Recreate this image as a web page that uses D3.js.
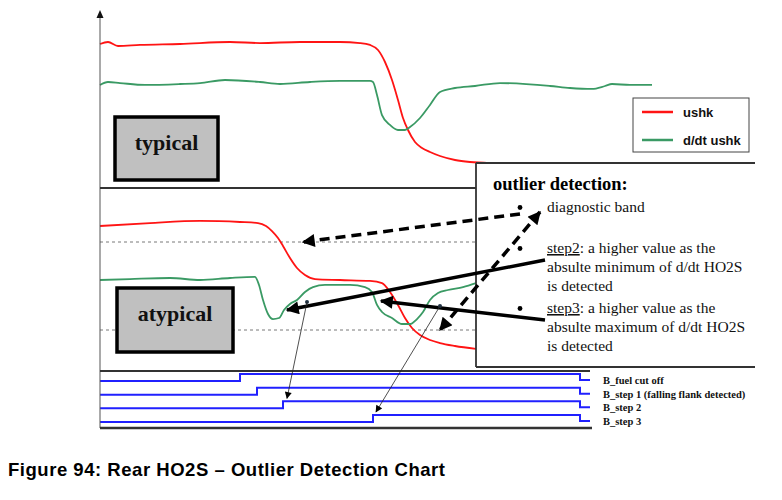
<!DOCTYPE html>
<html>
<head>
<meta charset="utf-8">
<script src="https://cdn.jsdelivr.net/npm/d3@7"></script>
<style>
  body { margin: 0; background: #fff; }
  svg { display: block; }
</style>
</head>
<body>
<div id="wrapper"></div>
<script>
// time in arbitrary units, values in % of panel height

// top panel ("typical")
const typicalTime = [0, 2, 4.5, 10, 20, 32.5, 40, 50, 60, 65, 67.5, 69.5, 71.25, 73, 74.5, 75.75, 77, 78.75, 80.5, 82.5, 85, 88.75, 92.5, 97.5]
const typicalUshk = [90, 91.25, 88.75, 89.4, 90, 91.25, 90.6, 91.25, 91.25, 90.6, 89.4, 86.25, 78.75, 67.5, 55, 43.75, 36.25, 28.75, 25, 22.5, 20, 17.5, 16.25, 15.6]
const typicalDtTime = [0, 2, 5, 11.25, 20, 25, 31.25, 40, 45, 52.5, 60, 67.5, 68.25, 69.25, 70.5, 72.5, 74.5, 76.25, 77.5, 80, 82.5, 85, 88.75, 93.75, 100, 112.5, 117.5, 123, 126.25, 128, 132.5, 138]
const typicalDtUshk = [64.4, 66.25, 65.6, 64.4, 65, 65.6, 67.5, 66.25, 65, 66.25, 66.9, 66.9, 66.25, 58.1, 45.6, 39.4, 36.25, 36.25, 38.1, 43.75, 51.9, 60, 62.5, 63.75, 65.6, 63.75, 62.5, 61.9, 63.75, 65, 64.4, 64.4]

// middle panel ("atypical")
const atypicalTime = [0, 12.5, 25, 35, 39.5, 41.5, 43, 44.5, 45.75, 47.5, 49.25, 51.25, 53.75, 60, 67.5, 70.5, 72.5, 74.5, 76.25, 78, 80, 82.5, 85, 88.75, 94]
const atypicalUshk = [88.75, 90.6, 91.9, 91.25, 90.6, 88.75, 85.6, 81.25, 76.25, 68.75, 62.5, 58.1, 55.6, 55, 54.4, 53.1, 47.5, 39.4, 31.25, 25, 20.6, 17.5, 15.6, 13.75, 11.9]
const atypicalDtTime = [0, 7.5, 17.5, 25, 32.5, 38.75, 39.75, 40.75, 42, 43.25, 44.75, 46, 47.5, 49.25, 51.25, 53.25, 56.25, 62.5, 66.25, 68, 69.25, 70.5, 73, 75.5, 77.5, 79.25, 80.75, 82.5, 84.5, 87, 90.75, 94]
const atypicalDtUshk = [55, 55.6, 56.25, 55, 56.25, 56.9, 51.9, 42.5, 33.75, 30.6, 31.25, 36.25, 40, 42.5, 47.5, 50.6, 51.9, 51.9, 50.6, 47.5, 39.4, 35, 31.25, 27.5, 27.5, 30.6, 35, 42.5, 46.9, 48.75, 50.6, 53.1]
const bandLimits = [78.75, 23.75]

// bottom panel: binary signals
const signalNames = ["B_fuel cut off", "B_step 1 (falling flank detected)", "B_step 2", "B_step 3"]
const signalRise = [35, 39.25, 45.75, 68.25]
const signalFall = [120, 120, 120, 120]
const signalEnd = 122.5

const legendNames = ["ushk", "d/dt ushk"]
const captionText = "Figure 94: Rear HO2S \u2013 Outlier Detection Chart"

const red = "#ff1414"
const green = "#3a9a64"
const blue = "#2020ff"

const svg = d3.select("#wrapper").append("svg")
  .attr("width", 782)
  .attr("height", 500)

const defs = svg.append("defs")
const addMarker = (id, w, h) => defs.append("marker")
  .attr("id", id)
  .attr("viewBox", "0 0 10 10")
  .attr("refX", 9).attr("refY", 5)
  .attr("markerUnits", "userSpaceOnUse")
  .attr("markerWidth", w).attr("markerHeight", h)
  .attr("orient", "auto-start-reverse")
  .append("path").attr("d", "M0,0 L10,5 L0,10 z").attr("fill", "#000")
addMarker("bigHead", 17, 13)
addMarker("smallHead", 8, 7)

// scales
const xScale = d3.scaleLinear().domain([0, 140]).range([100, 660])
const yTop = d3.scaleLinear().domain([0, 100]).range([188, 28])
const yMid = d3.scaleLinear().domain([0, 100]).range([368, 208])
const yRow = d3.scalePoint().domain(signalNames).range([381, 422])
const yLevel = d3.scaleLinear().domain([0, 1]).range([0, -7])

const lineGen = (ys) => d3.line()
  .x(d => xScale(d[0]))
  .y(d => ys(d[1]))
  .curve(d3.curveMonotoneX)

// middle band lines
svg.selectAll(".band")
  .data(bandLimits)
  .join("line")
  .attr("x1", xScale(0)).attr("x2", xScale(94))
  .attr("y1", d => yMid(d)).attr("y2", d => yMid(d))
  .attr("stroke", "#555").attr("stroke-width", 0.8)
  .attr("stroke-dasharray", "3,3")

// curves
const curves = [
  [typicalTime, typicalUshk, yTop, red],
  [typicalDtTime, typicalDtUshk, yTop, green],
  [atypicalTime, atypicalUshk, yMid, red],
  [atypicalDtTime, atypicalDtUshk, yMid, green],
]
curves.forEach(([ts, vs, ys, col]) => {
  svg.append("path")
    .datum(d3.zip(ts, vs))
    .attr("d", lineGen(ys))
    .attr("fill", "none")
    .attr("stroke", col)
    .attr("stroke-width", 1.8)
})

// step signals
const stepLine = d3.line()
  .x(d => xScale(d[0]))
  .y(d => d[1])
  .curve(d3.curveStepAfter)

signalNames.forEach((name, i) => {
  const low = yRow(name) + yLevel(0)
  const high = yRow(name) + yLevel(1)
  const pts = [[0, low], [signalRise[i], high], [signalFall[i], low - 1], [signalEnd, low - 1]]
  svg.append("path")
    .attr("d", stepLine(pts))
    .attr("fill", "none")
    .attr("stroke", blue)
    .attr("stroke-width", 2)
  svg.append("text")
    .attr("x", xScale(signalEnd) + 13)
    .attr("y", low + 3)
    .attr("font-family", "Liberation Serif, serif")
    .attr("font-weight", "bold")
    .attr("font-size", 10.5)
    .attr("fill", "#111")
    .text(name)
})

// frame lines
const frame = svg.append("g").attr("stroke", "#333").attr("fill", "none")
frame.append("line").attr("x1", 100).attr("x2", 476).attr("y1", 188).attr("y2", 188).attr("stroke-width", 1.8)
frame.append("line").attr("x1", 100).attr("x2", xScale(signalEnd)).attr("y1", 371).attr("y2", 371).attr("stroke-width", 2)
frame.append("line").attr("x1", 100).attr("x2", xScale(signalEnd) + 2).attr("y1", 428).attr("y2", 428).attr("stroke-width", 2.5)

// y axis with arrow
svg.append("line")
  .attr("x1", 100).attr("x2", 100).attr("y1", 16).attr("y2", 428)
  .attr("stroke", "#555").attr("stroke-width", 1)
svg.append("path").attr("d", "M100,10 L96.5,18 L103.5,18 z").attr("fill", "#111")

// outlier detection box
svg.append("rect")
  .attr("x", 476).attr("y", 163).attr("width", 279).attr("height", 204)
  .attr("fill", "#fff")
frame.raise()
const box = svg.append("g").attr("stroke", "#333").attr("stroke-width", 1.8)
box.append("line").attr("x1", 476).attr("x2", 755).attr("y1", 163).attr("y2", 163)
box.append("line").attr("x1", 476).attr("x2", 476).attr("y1", 163).attr("y2", 367)
box.append("line").attr("x1", 476).attr("x2", 755).attr("y1", 367).attr("y2", 367)

svg.append("text")
  .attr("x", 493).attr("y", 190)
  .attr("font-family", "Liberation Serif, serif")
  .attr("font-weight", "bold")
  .attr("font-size", 18.5)
  .text("outlier detection:")

const bullets = [
  { y: 212, lines: [[null, "diagnostic band"]] },
  { y: 253, lines: [["step2", ": a higher value as the"], [null, "absulte minimum of d/dt HO2S"], [null, "is detected"]] },
  { y: 313, lines: [["step3", ": a higher value as the"], [null, "absulte maximum of d/dt HO2S"], [null, "is detected"]] },
]
bullets.forEach(b => {
  svg.append("circle").attr("cx", 520).attr("cy", b.y - 4.5).attr("r", 2.4).attr("fill", "#000")
  b.lines.forEach((ln, j) => {
    const t = svg.append("text")
      .attr("x", 547).attr("y", b.y + j * 19)
      .attr("font-family", "Liberation Serif, serif")
      .attr("font-size", 15.5)
      .attr("fill", "#111")
    if (ln[0]) t.append("tspan").attr("text-decoration", "underline").text(ln[0])
    t.append("tspan").text(ln[1])
  })
})

// annotation arrows (in data coordinates of the middle panel)
const arrows = [
  { from: [105, 96.25], to: [50.75, bandLimits[0]], dash: true, both: false },
  { from: [110, 97.5], to: [85, bandLimits[1]], dash: true, both: true },
  { from: [111.25, 67.5], to: [46.75, 36.25], dash: false, both: false },
  { from: [111.25, 30], to: [70.25, 41.9], dash: false, both: false },
]
arrows.forEach(a => {
  svg.append("line")
    .attr("x1", xScale(a.from[0])).attr("y1", yMid(a.from[1]))
    .attr("x2", xScale(a.to[0])).attr("y2", yMid(a.to[1]))
    .attr("stroke", "#000")
    .attr("stroke-width", 3.5)
    .attr("stroke-dasharray", a.dash ? "10,6" : null)
    .attr("marker-end", "url(#bigHead)")
    .attr("marker-start", a.both ? "url(#bigHead)" : null)
})

// thin arrows from the curves to the step signals
const thinArrows = [
  { from: [51.75, 41.25], to: [46.75, "B_step 2"] },
  { from: [85, 38.75], to: [69, "B_step 3"] },
]
thinArrows.forEach(a => {
  svg.append("circle")
    .attr("cx", xScale(a.from[0])).attr("cy", yMid(a.from[1])).attr("r", 2)
    .attr("fill", "#234")
  svg.append("line")
    .attr("x1", xScale(a.from[0])).attr("y1", yMid(a.from[1]))
    .attr("x2", xScale(a.to[0])).attr("y2", yRow(a.to[1]) + yLevel(1) - 3)
    .attr("stroke", "#222").attr("stroke-width", 0.8)
    .attr("marker-end", "url(#smallHead)")
})

// label boxes
const labelBoxes = [
  { text: "typical", x: 115, y: 117, w: 103, h: 63 },
  { text: "atypical", x: 117, y: 288, w: 116, h: 64 },
]
labelBoxes.forEach(b => {
  svg.append("rect")
    .attr("x", b.x).attr("y", b.y).attr("width", b.w).attr("height", b.h)
    .attr("fill", "#c0c0c0").attr("stroke", "#000").attr("stroke-width", 3.5)
  svg.append("text")
    .attr("x", b.x + b.w / 2).attr("y", b.y + b.h / 2 + 1)
    .attr("text-anchor", "middle")
    .attr("font-family", "Liberation Serif, serif")
    .attr("font-weight", "bold")
    .attr("font-size", 22)
    .attr("fill", "#111")
    .text(b.text)
})

// legend
const legend = svg.append("g").attr("transform", "translate(633,98)")
legend.append("rect").attr("width", 116).attr("height", 54)
  .attr("fill", "#fff").attr("stroke", "#444").attr("stroke-width", 1)
legendNames.forEach((name, i) => {
  legend.append("line")
    .attr("x1", 9).attr("x2", 40).attr("y1", 14 + i * 28).attr("y2", 14 + i * 28)
    .attr("stroke", i === 0 ? red : green).attr("stroke-width", 2.5)
  legend.append("text")
    .attr("x", 50).attr("y", 19 + i * 28)
    .attr("font-family", "Liberation Sans, Arial, sans-serif")
    .attr("font-weight", "bold")
    .attr("font-size", 13)
    .attr("fill", "#111")
    .text(name)
})

// caption
svg.append("text")
  .attr("x", 8).attr("y", 476)
  .attr("font-family", "Liberation Sans, Arial, sans-serif")
  .attr("font-weight", "bold")
  .attr("font-size", 18.5)
  .attr("textLength", 437)
  .attr("lengthAdjust", "spacing")
  .attr("fill", "#000")
  .text(captionText)
</script>
</body>
</html>
